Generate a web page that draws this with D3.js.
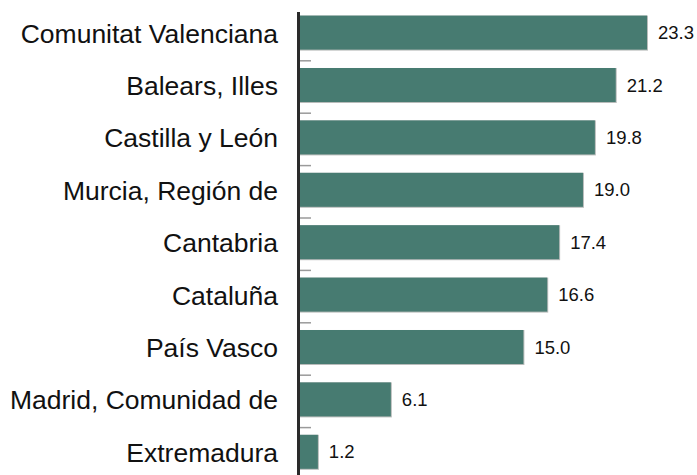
<!DOCTYPE html>
<html>
<head>
<meta charset="utf-8">
<script src="https://cdn.jsdelivr.net/npm/d3@7"></script>
<style>
  body { margin: 0; background: #fff; }
  #chart { width: 697px; height: 475px; }
  text { font-family: "Liberation Sans", Arial, sans-serif; fill: #111; }
</style>
</head>
<body>
<div id="chart"></div>
<script>
// data
const regions = ["Comunitat Valenciana", "Balears, Illes", "Castilla y León", "Murcia, Región de",
  "Cantabria", "Cataluña", "País Vasco", "Madrid, Comunidad de", "Extremadura"];
const values = [23.3, 21.2, 19.8, 19.0, 17.4, 16.6, 15.0, 6.1, 1.2];
const valueLabels = ["23.3", "21.2", "19.8", "19.0", "17.4", "16.6", "15.0", "6.1", "1.2"];

const data = regions.map((r, i) => ({ region: r, value: values[i], label: valueLabels[i] }));

const width = 697, height = 475;
const margin = { top: 6.4, left: 300, right: 50, bottom: -3 };

const svg = d3.select("#chart").append("svg")
  .attr("width", width)
  .attr("height", height);

const xScale = d3.scaleLinear()
  .domain([0, d3.max(values)])
  .range([margin.left, width - margin.right]);

const yScale = d3.scaleBand()
  .domain(regions)
  .range([margin.top, height - margin.bottom])
  .paddingInner(0.351)
  .paddingOuter(0.1755);

const step = yScale.step();
const gap = step - yScale.bandwidth();

// small grey ticks between bars
svg.selectAll(".tick-mark")
  .data(regions.slice(1))
  .enter()
  .append("line")
    .attr("x1", margin.left)
    .attr("x2", margin.left + 11)
    .attr("y1", d => yScale(d) - gap / 2 + 2)
    .attr("y2", d => yScale(d) - gap / 2 + 2)
    .attr("stroke", "#9a9a9a")
    .attr("stroke-width", 1.5);

// bar shadows
svg.selectAll(".shadow")
  .data(data)
  .enter()
  .append("rect")
    .attr("x", xScale(0))
    .attr("y", d => yScale(d.region))
    .attr("width", d => xScale(d.value) - xScale(0) + 1)
    .attr("height", yScale.bandwidth() + 1)
    .attr("fill", "#b9bcbb");

// bars
svg.selectAll(".bar")
  .data(data)
  .enter()
  .append("rect")
    .attr("class", "bar")
    .attr("x", xScale(0))
    .attr("y", d => yScale(d.region))
    .attr("width", d => xScale(d.value) - xScale(0))
    .attr("height", yScale.bandwidth())
    .attr("fill", "#477b71");

// value labels
svg.selectAll(".val")
  .data(data)
  .enter()
  .append("text")
    .attr("x", d => xScale(d.value) + 11)
    .attr("y", d => yScale(d.region) + yScale.bandwidth() / 2)
    .attr("dy", "0.36em")
    .style("font-size", "18.5px")
    .text(d => d.label);

// category labels
svg.selectAll(".cat")
  .data(data)
  .enter()
  .append("text")
    .attr("x", margin.left - 22)
    .attr("y", d => yScale(d.region) + yScale.bandwidth() / 2)
    .attr("dy", "0.38em")
    .attr("text-anchor", "end")
    .style("font-size", "26.5px")
    .text(d => d.region);

// vertical axis line
svg.append("line")
  .attr("x1", margin.left - 1.5)
  .attr("x2", margin.left - 1.5)
  .attr("y1", 12)
  .attr("y2", height)
  .attr("stroke", "#2a2a2a")
  .attr("stroke-width", 3);
</script>
</body>
</html>
